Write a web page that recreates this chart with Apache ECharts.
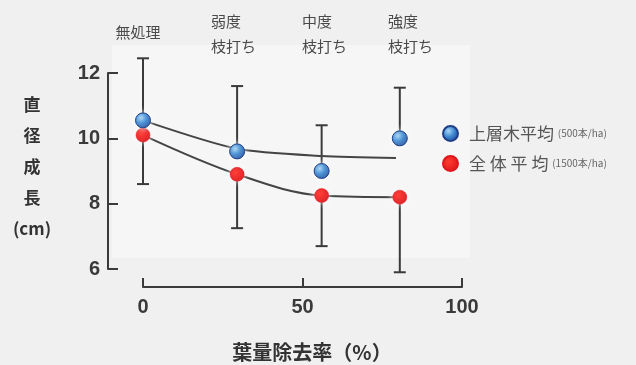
<!DOCTYPE html>
<html>
<head>
<meta charset="utf-8">
<script src="https://cdn.jsdelivr.net/npm/echarts@6/dist/echarts.min.js"></script>
<style>
  html, body { margin: 0; padding: 0; background: #f0f0f0; }
  #chart { width: 636px; height: 365px; }
</style>
</head>
<body>
<div id="chart"></div>
<script>
// Pruning treatments and the share of foliage removed by each (%)
const treatments = ['無処理', '弱度\n枝打ち', '中度\n枝打ち', '強度\n枝打ち'];
const removalRate = [0, 29.5, 56, 80.5];

// Upper-storey trees: mean diameter growth (cm) and top of the error bar
const upperMean = [10.55, 9.6, 9.0, 10.0];
const upperErrTop = [12.45, 11.6, 10.4, 11.55];
// Fitted trend drawn for the upper-storey trees
const upperTrend = [[0, 10.55], [29.5, 9.68], [56, 9.46], [79.3, 9.4]];

// All trees: mean diameter growth (cm) and bottom of the error bar
const allMean = [10.1, 8.9, 8.25, 8.2];
const allErrBottom = [8.6, 7.25, 6.7, 5.9];

const seriesNames = ['上層木平均', '全 体 平 均'];
const densities = ['500本/ha', '1500本/ha'];

const xTicks = [0, 50, 100];
const yTicks = [6, 8, 10, 12];

const INK = '#3a3a3a';
const SANS = '"Noto Sans CJK JP", "Noto Sans", sans-serif';
const NUM = '"Liberation Sans", Arial, sans-serif';

const blueBall = {
  type: 'radial', x: 0.38, y: 0.35, r: 0.75,
  colorStops: [
    { offset: 0, color: '#a9d6f5' },
    { offset: 0.45, color: '#3f8ad2' },
    { offset: 1, color: '#173f8f' }
  ]
};
const redBall = {
  type: 'radial', x: 0.4, y: 0.4, r: 0.7,
  colorStops: [
    { offset: 0, color: '#ff3a30' },
    { offset: 1, color: '#d9121a' }
  ]
};

function errorRows(means, ends) {
  return removalRate.map((x, i) => [x, means[i], ends[i]]);
}

function renderErrorBar(params, api) {
  const x = api.value(0);
  const p0 = api.coord([x, api.value(1)]);
  const p1 = api.coord([x, api.value(2)]);
  const hw = 6;
  const st = { stroke: INK, lineWidth: 2 };
  return {
    type: 'group',
    children: [
      { type: 'line', shape: { x1: p0[0], y1: p0[1], x2: p1[0], y2: p1[1] }, style: st },
      { type: 'line', shape: { x1: p1[0] - hw, y1: p1[1], x2: p1[0] + hw, y2: p1[1] }, style: st }
    ]
  };
}

const chart = echarts.init(document.getElementById('chart'), null, { renderer: 'canvas' });

// Treatment captions above the plot
const captionPos = [[138, 32, 'center'], [211, 34, 'left'], [302, 34, 'left'], [388, 34, 'left']];
const captions = treatments.map((t, i) => ({
  type: 'text',
  x: captionPos[i][0],
  y: captionPos[i][1],
  style: {
    text: t,
    font: '15px ' + SANS,
    fill: '#4a4a4a',
    align: captionPos[i][2],
    verticalAlign: 'middle',
    lineHeight: 25
  }
}));

chart.setOption({
  backgroundColor: '#f0f0f0',
  animation: false,
  grid: { left: 143, right: 174, top: 73, bottom: 96 },
  xAxis: {
    type: 'value',
    min: xTicks[0], max: xTicks[xTicks.length - 1], interval: 50,
    offset: 18,
    splitLine: { show: false },
    axisLine: { show: true, onZero: false, lineStyle: { color: INK, width: 2 } },
    axisTick: { show: true, inside: true, length: 9, lineStyle: { color: INK, width: 2 } },
    axisLabel: { margin: 10, color: INK, fontFamily: NUM, fontWeight: 'bold', fontSize: 20 }
  },
  yAxis: {
    type: 'value',
    min: yTicks[0], max: yTicks[yTicks.length - 1], interval: 2,
    offset: 35,
    splitLine: { show: false },
    axisLine: { show: true, onZero: false, lineStyle: { color: INK, width: 2 } },
    axisTick: { show: true, inside: true, length: 10, lineStyle: { color: INK, width: 2 } },
    axisLabel: { margin: 8, color: INK, fontFamily: NUM, fontWeight: 'bold', fontSize: 20 }
  },
  legend: {
    orient: 'vertical',
    left: 437, top: 120,
    itemWidth: 15, itemHeight: 15, itemGap: 13,
    icon: 'circle',
    data: seriesNames,
    formatter: name => name + ' {s|(' + densities[seriesNames.indexOf(name)] + ')}',
    textStyle: {
      color: '#555', fontFamily: SANS, fontSize: 17, padding: [0, 0, 0, 6],
      rich: { s: { fontSize: 10, color: '#666', fontFamily: SANS } }
    }
  },
  graphic: [
    {
      type: 'rect', z: -10, silent: true,
      shape: { x: 112, y: 45, width: 358, height: 213 },
      style: { fill: '#f6f6f6' }
    },
    {
      type: 'text', x: 32, y: 167,
      style: {
        text: '直\n径\n成\n長\n(cm)',
        font: 'bold 17px ' + SANS,
        fill: '#333', align: 'center', verticalAlign: 'middle', lineHeight: 31
      }
    },
    {
      type: 'text', x: 312, y: 352,
      style: {
        text: '葉量除去率（%）',
        font: 'bold 20px ' + SANS,
        fill: '#333', align: 'center', verticalAlign: 'middle'
      }
    }
  ].concat(captions),
  series: [
    {
      type: 'custom', name: 'upperErr', z: 1,
      renderItem: renderErrorBar,
      encode: { x: 0, y: [1, 2] },
      data: errorRows(upperMean, upperErrTop)
    },
    {
      type: 'custom', name: 'allErr', z: 1,
      renderItem: renderErrorBar,
      encode: { x: 0, y: [1, 2] },
      data: errorRows(allMean, allErrBottom)
    },
    {
      type: 'line', name: 'upperTrend', z: 2,
      smooth: 0.25, showSymbol: false, silent: true,
      lineStyle: { color: '#444', width: 2 },
      data: upperTrend
    },
    {
      type: 'line', name: seriesNames[1], z: 3,
      smooth: 0.35,
      symbol: 'circle', symbolSize: 14, showSymbol: true,
      lineStyle: { color: '#444', width: 2 },
      itemStyle: { color: redBall, borderColor: '#e0161c', borderWidth: 0.5,
                   shadowColor: 'rgba(255,255,255,0.95)', shadowBlur: 6 },
      data: removalRate.map((x, i) => [x, allMean[i]])
    },
    {
      type: 'scatter', name: seriesNames[0], z: 4,
      symbol: 'circle', symbolSize: 15,
      itemStyle: { color: blueBall, borderColor: '#1f3f88', borderWidth: 1,
                   shadowColor: 'rgba(255,255,255,0.95)', shadowBlur: 6, opacity: 1 },
      data: removalRate.map((x, i) => [x, upperMean[i]])
    }
  ]
});
</script>
</body>
</html>
